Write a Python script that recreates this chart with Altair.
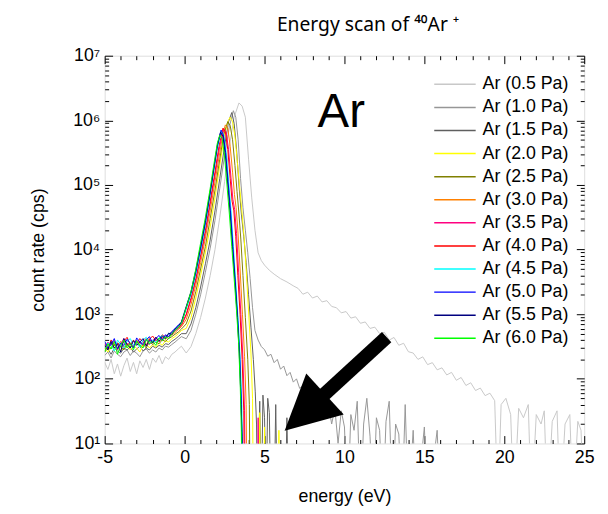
import altair as alt
import pandas as pd

FONT = "Liberation Sans"

series_names = ["Ar (0.5 Pa)", "Ar (1.0 Pa)", "Ar (1.5 Pa)", "Ar (2.0 Pa)", "Ar (2.5 Pa)", "Ar (3.0 Pa)",
                "Ar (3.5 Pa)", "Ar (4.0 Pa)", "Ar (4.5 Pa)", "Ar (5.0 Pa)", "Ar (5.5 Pa)", "Ar (6.0 Pa)"]
series_colors = ["#c8c8c8", "#969696", "#5f5f5f", "#ffff00", "#808000", "#ff8000",
                 "#ff0080", "#ff0000", "#00ffff", "#0000ff", "#000080", "#00ff00"]

# shared energies of the flat pre-peak region (eV)
base_e = [-5.0, -4.8, -4.6, -4.4, -4.2, -4.0, -3.8, -3.6, -3.4, -3.2, -3.0, -2.8, -2.6, -2.4, -2.2,
          -2.0, -1.8, -1.6, -1.4, -1.2, -1.0, -0.8, -0.6, -0.4, -0.2]

# ---- 0.5 Pa
base_05 = [180, 140, 200, 120, 170, 110, 160, 210, 130, 180, 120, 190, 150, 200, 140, 210, 180, 230, 170, 220,
           200, 240, 260, 290, 320]
e_05 = [0.1, 0.4, 0.7, 1.0, 1.3, 1.6, 1.9, 2.2, 2.5, 2.8, 3.1, 3.4, 3.6, 3.8, 4.0, 4.2, 4.4, 4.6, 4.8, 5.0,
        5.3, 5.6, 6.0, 6.4, 6.8, 7.1, 7.4, 7.7, 8.0, 8.3, 8.6, 8.9, 9.2, 9.5, 9.8, 10.1, 10.4, 10.7, 11.0,
        11.3, 11.6, 11.9, 12.2, 12.5, 12.8, 13.1, 13.4, 13.7, 14.0, 14.3, 14.6, 14.9, 15.2, 15.5, 15.8,
        16.1, 16.4, 16.7, 17.0, 17.3, 17.6, 17.9, 18.2, 18.5, 18.8, 19.1, 19.4, 19.6, 19.8, 20.1, 20.4,
        20.6, 20.9, 21.2, 21.5, 21.7, 22.0, 22.3, 22.5, 22.7, 23.0, 23.3, 23.5, 23.8, 24.1, 24.3, 24.6,
        24.8, 25.0]
c_05 = [251, 316, 501, 891, 1780, 3980, 10000, 31600, 112000, 398000, 1120000, 1860000, 1660000, 1120000,
        251000, 63100, 20000, 8910, 6760, 5750, 4790, 4170, 3550, 3160, 2750, 2510, 2040, 2190, 1780, 1910,
        1550, 1620, 1320, 1260, 1050, 1100, 871, 912, 724, 759, 603, 631, 501, 525, 398, 437, 331, 355,
        263, 251, 200, 219, 166, 178, 138, 148, 115, 126, 95, 105, 79, 87, 66, 72, 55, 60, 46, 1, 40, 50,
        28, 1, 35, 25, 40, 1, 28, 20, 32, 1, 22, 32, 1, 20, 28, 1, 22, 16, 1]

# ---- 1.0 Pa
base_10 = [230, 260, 210, 270, 240, 220, 260, 280, 230, 270, 250, 220, 270, 290, 250, 280, 260, 300, 280, 320,
           310, 340, 370, 410, 450]
e_10 = [0.1, 0.4, 0.7, 1.0, 1.3, 1.6, 1.9, 2.2, 2.5, 2.8, 3.05, 3.2, 3.35, 3.5, 3.65, 3.8, 3.95, 4.1, 4.25,
        4.4, 4.6, 4.8, 5.0, 5.2, 5.4, 5.6, 5.8, 6.0, 6.2, 6.4, 6.6, 6.8, 7.0, 7.2, 7.4, 7.6, 7.8, 8.0, 8.2,
        8.4, 8.6, 8.8, 9.0, 9.2, 9.4, 9.6, 9.8, 10.0, 10.2, 10.4, 10.6, 10.8, 11.0, 11.2, 11.4, 11.6, 11.8,
        12.0, 12.2, 12.4, 12.6, 12.8, 13.0, 13.2, 13.4, 13.6, 13.8, 14.0, 14.3, 14.5, 15.0, 15.2, 15.8, 16.0]
c_10 = [417, 562, 1000, 2000, 4470, 10500, 28200, 89100, 282000, 794000, 1410000, 1120000, 501000, 126000,
        44700, 20000, 8910, 3550, 1260, 562, 398, 316, 282, 224, 240, 178, 200, 141, 158, 112, 126, 89, 100,
        71, 79, 50, 71, 45, 56, 35, 50, 28, 40, 20, 35, 10, 32, 18, 1, 28, 16, 45, 1, 20, 50, 13, 1, 25, 16,
        1, 22, 45, 1, 20, 14, 1, 40, 1, 16, 1, 18, 1, 16, 1]

# ---- 1.5 Pa
base_15 = [260, 290, 240, 300, 270, 250, 300, 280, 310, 260, 290, 320, 270, 300, 280, 320, 300, 330, 310, 350,
           340, 380, 410, 450, 500]
e_15 = [0.1, 0.4, 0.7, 1.0, 1.3, 1.6, 1.9, 2.2, 2.5, 2.75, 2.95, 3.1, 3.25, 3.4, 3.55, 3.7, 3.85, 4.0, 4.15,
        4.3, 4.42, 4.5, 4.55, 4.7, 4.8, 4.9, 5.0, 5.1, 5.2, 5.3, 5.4, 5.6, 5.7, 5.8, 6.3, 6.4, 6.5]
c_15 = [501, 708, 1260, 2630, 6030, 14100, 39800, 126000, 398000, 955000, 1320000, 891000, 355000, 100000,
        35500, 15800, 6310, 2000, 631, 200, 63, 20, 1, 45, 1, 56, 25, 1, 50, 30, 1, 1, 40, 1, 1, 25, 1]

# ---- 2.0 Pa
base_20 = [300, 260, 320, 290, 330, 270, 310, 340, 280, 320, 300, 260, 330, 350, 300, 340, 310, 360, 330, 390,
           370, 420, 450, 500, 560]
e_20 = [0.1, 0.4, 0.7, 1.0, 1.3, 1.6, 1.9, 2.2, 2.5, 2.7, 2.85, 3.0, 3.15, 3.3, 3.45, 3.58, 3.72, 3.85, 4.0,
        4.15, 4.25, 4.3, 4.65, 4.7, 4.75, 4.95, 5.0, 5.05, 5.85, 5.9, 5.95]
c_20 = [603, 891, 1780, 3980, 8910, 22400, 63100, 200000, 603000, 955000, 1120000, 955000, 562000, 224000,
        89100, 39800, 15800, 5010, 1120, 251, 50, 1, 1, 30, 1, 1, 18, 1, 1, 16, 1]

# ---- 2.5 Pa
base_25 = [270, 310, 290, 340, 300, 320, 280, 350, 310, 330, 370, 320, 350, 300, 380, 340, 370, 350, 400, 380,
           420, 450, 490, 530, 590]
e_25 = [0.1, 0.4, 0.7, 1.0, 1.3, 1.6, 1.9, 2.2, 2.45, 2.7, 2.85, 3.0, 3.15, 3.28, 3.4, 3.52, 3.65, 3.8,
        3.95, 4.05, 4.1]
c_25 = [708, 1120, 2240, 5010, 11200, 30200, 83200, 251000, 603000, 955000, 832000, 501000, 200000, 79400,
        35500, 14100, 3980, 891, 200, 40, 1]

# ---- 3.0 Pa
base_30 = [290, 330, 360, 300, 340, 380, 310, 350, 330, 400, 340, 380, 320, 390, 420, 360, 400, 380, 440, 410,
           450, 480, 520, 580, 640]
e_30 = [0.1, 0.4, 0.7, 1.0, 1.3, 1.6, 1.9, 2.2, 2.4, 2.55, 2.7, 2.85, 3.0, 3.12, 3.22, 3.33, 3.47, 3.62,
        3.75, 3.85, 3.9]
c_30 = [832, 1410, 2820, 6310, 15100, 39800, 112000, 316000, 631000, 851000, 759000, 398000, 158000, 70800,
        44700, 20000, 5010, 1000, 224, 40, 1]

# ---- 3.5 Pa
base_35 = [310, 370, 330, 390, 280, 350, 420, 340, 360, 310, 400, 350, 380, 420, 340, 390, 440, 380, 420, 470,
           450, 510, 550, 600, 670]
e_35 = [0.1, 0.4, 0.7, 1.0, 1.3, 1.6, 1.9, 2.2, 2.45, 2.6, 2.75, 2.9, 3.02, 3.13, 3.25, 3.38, 3.52, 3.65,
        3.75, 3.8, 4.55, 4.6, 4.65]
c_35 = [955, 1660, 3310, 7590, 17800, 50100, 141000, 398000, 741000, 661000, 355000, 132000, 60300, 41700,
        17800, 4470, 1000, 200, 32, 1, 1, 25, 1]

# ---- 4.0 Pa
base_40 = [350, 290, 400, 330, 360, 310, 380, 440, 340, 390, 350, 420, 370, 330, 410, 460, 390, 420, 480, 440,
           490, 530, 580, 620, 690]
e_40 = [0.1, 0.4, 0.7, 1.0, 1.3, 1.6, 1.9, 2.15, 2.4, 2.55, 2.7, 2.85, 2.97, 3.08, 3.2, 3.33, 3.47, 3.6,
        3.7, 3.76]
c_40 = [1000, 1780, 3550, 8300, 20000, 56200, 158000, 398000, 759000, 661000, 355000, 126000, 56200, 39800,
        15800, 3980, 1000, 200, 32, 1]

# ---- 4.5 Pa
base_45 = [300, 360, 330, 270, 400, 340, 300, 380, 420, 330, 360, 310, 400, 440, 350, 400, 370, 430, 470, 420,
           500, 520, 580, 640, 720]
e_45 = [0.1, 0.4, 0.7, 1.0, 1.3, 1.6, 1.85, 2.05, 2.3, 2.45, 2.6, 2.75, 2.9, 3.05, 3.2, 3.35, 3.48, 3.58,
        3.66]
c_45 = [1200, 2000, 4170, 9550, 24000, 70800, 178000, 372000, 676000, 589000, 316000, 120000, 41700, 11200,
        3160, 794, 200, 40, 1]

# ---- 5.0 Pa
base_50 = [380, 300, 340, 420, 290, 360, 330, 410, 350, 300, 430, 370, 340, 400, 450, 360, 420, 470, 400, 480,
           450, 540, 600, 680, 740]
e_50 = [0.1, 0.4, 0.7, 1.0, 1.3, 1.6, 1.85, 2.05, 2.28, 2.42, 2.57, 2.72, 2.87, 3.02, 3.17, 3.32, 3.45,
        3.55, 3.62]
c_50 = [1260, 2140, 4470, 10500, 26300, 75900, 191000, 398000, 708000, 603000, 316000, 112000, 39800, 11200,
        3160, 890, 224, 40, 1]

# ---- 5.5 Pa
base_55 = [330, 280, 380, 300, 350, 260, 420, 340, 300, 390, 330, 370, 420, 320, 400, 360, 440, 380, 460, 420,
           510, 480, 590, 650, 760]
e_55 = [0.1, 0.4, 0.7, 1.0, 1.3, 1.6, 1.85, 2.05, 2.25, 2.4, 2.55, 2.7, 2.85, 3.0, 3.15, 3.3, 3.42, 3.52,
        3.6, 3.65]
c_55 = [1320, 2240, 4790, 11200, 28200, 79400, 200000, 417000, 660000, 562000, 282000, 100000, 35500, 10000,
        3160, 890, 250, 50, 13, 1]

# ---- 6.0 Pa
base_60 = [260, 350, 290, 380, 240, 330, 400, 300, 360, 280, 390, 330, 300, 410, 350, 380, 330, 430, 390, 450,
           420, 500, 560, 620, 720]
e_60 = [0.1, 0.4, 0.7, 1.0, 1.3, 1.6, 1.85, 2.05, 2.2, 2.35, 2.5, 2.65, 2.8, 2.95, 3.1, 3.25, 3.38, 3.48,
        3.55, 3.6]
c_60 = [1260, 2240, 5000, 12600, 31600, 89000, 224000, 447000, 590000, 525000, 282000, 100000, 35500, 11200,
        3550, 1120, 355, 79, 16, 1]

# annotation: arrow (shaft start/end, head centre) and label
arrow_x = [12.64, 8.09]
arrow_y = [441, 41]
head_x = [7.52]
head_y = [30.3]
big_label = ["Ar"]
big_label_x = [9.8]
big_label_y = [790000]

parts = [
    (base_05, e_05, c_05), (base_10, e_10, c_10), (base_15, e_15, c_15), (base_20, e_20, c_20),
    (base_25, e_25, c_25), (base_30, e_30, c_30), (base_35, e_35, c_35), (base_40, e_40, c_40),
    (base_45, e_45, c_45), (base_50, e_50, c_50), (base_55, e_55, c_55), (base_60, e_60, c_60),
]
rows = []
for si, (name, (b, e, c)) in enumerate(zip(series_names, parts)):
    energies = base_e + e
    counts = b + c
    for i, (x, y) in enumerate(zip(energies, counts)):
        rows.append({"series": name, "energy": x, "count": y, "k": si * 1000 + i})
df = pd.DataFrame(rows)

W, H = 486, 393
TK = 8  # major tick length

xs = alt.Scale(domain=[-5, 25], nice=False, zero=False)
ys = alt.Scale(type="log", domain=[10, 1e7], nice=False)

x_vals = list(range(-5, 26))
y_vals = [k * 10 ** n for n in range(1, 7) for k in range(1, 10)] + [10 ** 7]

x_major = "datum.value % 5 === 0"
y_major = "abs(log(datum.value)/LN10 - round(log(datum.value)/LN10)) < 0.01"
x_dash = {"condition": {"test": x_major, "value": [TK, 0]}, "value": [0, 4, 4, 100]}
y_dash = {"condition": {"test": y_major, "value": [TK, 0]}, "value": [0, 4, 4, 100]}

common = dict(domain=False, grid=False, tickSize=TK, offset=-TK, tickColor="black", tickWidth=1,
              labelFont=FONT, labelFontSize=18, labelColor="black", labelOverlap=False, labelFlush=False,
              titleFont=FONT, titleFontSize=18, titleFontWeight="normal", titleColor="black")

x_axis_bottom = alt.Axis(orient="bottom", values=x_vals, tickDash=x_dash,
                         labelExpr=x_major + " ? '' + datum.value : ''", labelPadding=5,
                         title="energy (eV)", titlePadding=22, **common)
y_axis_left = alt.Axis(orient="left", values=y_vals, tickDash=y_dash,
                       labelExpr=y_major + " ? '10' + ['\u2070','\u00b9','\u00b2','\u00b3','\u2074','\u2075','\u2076','\u2077'][round(log(datum.value)/LN10)] : ''",
                       labelPadding=5, title="count rate (cps)", titlePadding=25, **common)
x_axis_top = alt.Axis(orient="top", values=x_vals, tickDash=x_dash, labels=False, title=None, **common)
y_axis_right = alt.Axis(orient="right", values=y_vals, tickDash=y_dash, labels=False, title=None, **common)

lines = alt.Chart(df).mark_line(clip=True, strokeWidth=1).encode(
    x=alt.X("energy:Q", scale=xs, axis=x_axis_bottom),
    y=alt.Y("count:Q", scale=ys, axis=y_axis_left),
    color=alt.Color("series:N", scale=alt.Scale(domain=series_names, range=series_colors),
                    sort=series_names,
                    legend=alt.Legend(title=None, orient="none", legendX=333, legendY=20,
                                      symbolType="stroke", symbolSize=1764, symbolStrokeWidth=1.5,
                                      clipHeight=18,
                                      labelFont=FONT, labelFontSize=18, labelColor="black",
                                      labelOffset=6, rowPadding=5.4, padding=0, labelLimit=300)),
    order=alt.Order("k:Q"),
)

frame_axes = alt.Chart(df).mark_line(opacity=0, clip=True).encode(
    x=alt.X("energy:Q", scale=xs, axis=x_axis_top),
    y=alt.Y("count:Q", scale=ys, axis=y_axis_right),
    detail="series:N",
)

arrow_df = pd.DataFrame({"x": arrow_x, "y": arrow_y})
shaft = alt.Chart(arrow_df).mark_line(color="black", strokeWidth=14, strokeCap="butt", clip=True).encode(
    x=alt.X("x:Q", scale=xs, axis=None), y=alt.Y("y:Q", scale=ys, axis=None))

head_df = pd.DataFrame({"x": head_x, "y": head_y})
head = alt.Chart(head_df).mark_point(shape="M0,-1L1.02,1L-1.02,1Z", size=3058, angle=227.7, filled=True,
                                     color="black", opacity=1, strokeWidth=0).encode(
    x=alt.X("x:Q", scale=xs, axis=None), y=alt.Y("y:Q", scale=ys, axis=None))

label_df = pd.DataFrame({"x": big_label_x, "y": big_label_y, "t": big_label})
label = alt.Chart(label_df).mark_text(font=FONT, fontSize=48, align="center", baseline="alphabetic",
                                      color="black").encode(
    x=alt.X("x:Q", scale=xs, axis=None), y=alt.Y("y:Q", scale=ys, axis=None), text="t:N")

chart = alt.layer(lines, frame_axes, shaft, head, label).resolve_scale(
    x="shared", y="shared").resolve_axis(x="independent", y="independent").properties(
    width=W, height=H, autosize="none",
    padding={"left": 98, "top": 45, "right": 16, "bottom": 60},
    title=alt.TitleParams(text="Energy scan of \u2074\u2070Ar \u207a", font="Noto Sans", fontSize=19.5,
                          fontWeight="normal", color="black", anchor="middle", dx=24, offset=12),
).configure_view(stroke="black", strokeWidth=1.5).configure(background="white")

chart.save("out.html", embed_options={"renderer": "svg", "actions": False})
